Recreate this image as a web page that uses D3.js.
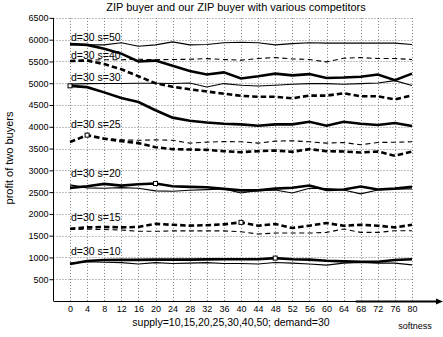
<!DOCTYPE html>
<html>
<head>
<meta charset="utf-8">
<script src="https://cdn.jsdelivr.net/npm/d3@7"></script>
<style>
  html, body { margin: 0; padding: 0; background: #fff; }
  svg { display: block; font-family: "Liberation Sans", Arial, sans-serif; }
</style>
</head>
<body>
<svg id="chart" width="443" height="337"></svg>
<script>
// softness values on the x axis
const softness = [0, 4, 8, 12, 16, 20, 24, 28, 32, 36, 40, 44, 48, 52, 56, 60, 64, 68, 72, 76, 80];
const yTicks = [500, 1000, 1500, 2000, 2500, 3000, 3500, 4000, 4500, 5000, 5500, 6000, 6500];
const supplies = [50, 40, 30, 25, 20, 15, 10];

// profit of two buyers: our ZIP buyer (heavy line) and the plain ZIP buyer (light line)
const ours50 = [5900, 5880, 5790, 5680, 5500, 5520, 5400, 5280, 5200, 5250, 5110, 5160, 5220, 5180, 5210, 5120, 5130, 5150, 5200, 5070, 5220];
const zip50  = [5880, 5880, 5880, 5930, 5850, 5880, 5950, 5880, 5890, 5930, 5940, 5930, 5880, 5910, 5930, 5920, 5920, 5920, 5920, 5920, 5890];
const ours40 = [5510, 5520, 5440, 5320, 5160, 5000, 4920, 4860, 4810, 4760, 4710, 4690, 4690, 4655, 4715, 4715, 4770, 4700, 4700, 4630, 4720];
const zip40  = [5520, 5530, 5540, 5540, 5550, 5540, 5545, 5550, 5565, 5545, 5530, 5567, 5590, 5558, 5545, 5490, 5574, 5590, 5567, 5567, 5545];
const ours30 = [4940, 4910, 4790, 4660, 4570, 4380, 4210, 4140, 4100, 4070, 4055, 4024, 4055, 4055, 4116, 4024, 4116, 4070, 4040, 4085, 4017];
const zip30  = [4980, 4990, 4995, 4995, 5000, 5000, 4995, 5006, 4914, 4992, 4953, 4937, 4953, 4976, 4992, 4992, 4976, 4992, 5006, 5060, 4950];
const ours25 = [3650, 3808, 3725, 3670, 3625, 3532, 3486, 3478, 3470, 3440, 3417, 3440, 3456, 3425, 3486, 3440, 3433, 3410, 3433, 3334, 3430];
const zip25  = [3650, 3790, 3740, 3702, 3690, 3700, 3690, 3625, 3648, 3660, 3656, 3625, 3670, 3679, 3656, 3625, 3640, 3586, 3640, 3645, 3656];
const ours20 = [2597, 2635, 2690, 2650, 2680, 2697, 2635, 2620, 2611, 2574, 2540, 2540, 2580, 2600, 2650, 2550, 2560, 2630, 2560, 2580, 2620];
const zip20  = [2666, 2597, 2590, 2604, 2590, 2528, 2520, 2543, 2558, 2574, 2480, 2540, 2550, 2480, 2590, 2580, 2550, 2460, 2550, 2570, 2570];
const ours15 = [1660, 1690, 1700, 1690, 1700, 1770, 1750, 1730, 1740, 1760, 1805, 1729, 1767, 1676, 1729, 1790, 1729, 1750, 1729, 1690, 1750];
const zip15  = [1640, 1650, 1640, 1630, 1600, 1600, 1610, 1610, 1610, 1610, 1590, 1537, 1560, 1560, 1560, 1575, 1653, 1575, 1575, 1614, 1614];
const ours10 = [850, 920, 940, 945, 945, 950, 950, 950, 955, 960, 960, 958, 985, 958, 950, 923, 910, 900, 900, 940, 958];
const zip10  = [870, 900, 890, 880, 850, 880, 860, 870, 880, 860, 860, 850, 884, 870, 850, 824, 870, 884, 870, 870, 830];

// softness at which each heavy line carries its square marker (null = none)
const markerAt = [null, null, 0, 4, 20, 40, 48];

const oursSeries = [ours50, ours40, ours30, ours25, ours20, ours15, ours10];
const zipSeries  = [zip50, zip40, zip30, zip25, zip20, zip15, zip10];

// ---- layout ----
const svg = d3.select("#chart");
const x = d3.scaleLinear().domain([0, 80]).range([70, 412]);
const y = d3.scaleLinear().domain([0, 6500]).range([301, 17.9]);
const axisX = 53.5;
const dashedRow = [false, true, false, true, false, true, false];
// value at which each curve's caption baseline sits
const captionValue = [5960, 5560, 5060, 3970, 2850, 1840, 1055];

// grid
const grid = svg.append("g").attr("stroke", "#808080").attr("stroke-width", 1).attr("stroke-dasharray", "1,2");
grid.selectAll("line.v").data(softness).join("line")
  .attr("class", "v")
  .attr("x1", d => Math.round(x(d)) + 0.5).attr("x2", d => Math.round(x(d)) + 0.5)
  .attr("y1", y(6500)).attr("y2", y(0));
grid.selectAll("line.h").data(yTicks).join("line")
  .attr("class", "h")
  .attr("x1", axisX).attr("x2", x(80))
  .attr("y1", d => Math.round(y(d)) + 0.5).attr("y2", d => Math.round(y(d)) + 0.5);

// y axis
const yAxis = svg.append("g")
  .attr("transform", `translate(${axisX},0)`)
  .call(d3.axisLeft(y).tickValues(yTicks).tickFormat(d3.format("d"))
    .tickSize(4).tickPadding(1).tickSizeOuter(0));
yAxis.select(".domain").attr("d", `M0,${y(6500)}V${y(0)}`).attr("stroke", "#000");
yAxis.selectAll(".tick text").attr("font-size", 9).attr("font-family", "Liberation Sans, Arial, sans-serif").attr("fill", "#000");
yAxis.selectAll(".tick line").attr("stroke", "#000");

// x axis: labels only, with an arrowed base line
const xAxis = svg.append("g")
  .attr("transform", `translate(0,${y(0)})`)
  .call(d3.axisBottom(x).tickValues(softness).tickFormat(d3.format("d"))
    .tickSize(0).tickPadding(5).tickSizeOuter(0));
xAxis.select(".domain").remove();
xAxis.selectAll(".tick text").attr("font-size", 9).attr("font-family", "Liberation Sans, Arial, sans-serif").attr("fill", "#000");

const baseY = y(0) + 0.5;
svg.append("line").attr("x1", axisX).attr("x2", 438).attr("y1", baseY).attr("y2", baseY)
  .attr("stroke", "#000").attr("stroke-width", 1);
svg.append("line").attr("x1", x(68) - 5).attr("x2", 437).attr("y1", baseY).attr("y2", baseY)
  .attr("stroke", "#000").attr("stroke-width", 2);
svg.append("path").attr("d", `M436,${baseY - 3}L443,${baseY}L436,${baseY + 3}Z`).attr("fill", "#000");

// curves
const line = d3.line().x((d, i) => x(softness[i])).y(d => y(d));
const curves = svg.append("g").attr("fill", "none").attr("stroke", "#000");

zipSeries.forEach((vals, k) => {
  curves.append("path").datum(vals)
    .attr("d", line)
    .attr("stroke-width", 1.1)
    .attr("stroke-dasharray", dashedRow[k] ? "5,3.5" : null);
});
oursSeries.forEach((vals, k) => {
  curves.append("path").datum(vals)
    .attr("d", line)
    .attr("stroke-width", 2.6)
    .attr("stroke-dasharray", dashedRow[k] ? "5.5,3" : null);
});

// markers
oursSeries.forEach((vals, k) => {
  if (markerAt[k] === null) return;
  const i = softness.indexOf(markerAt[k]);
  svg.append("rect")
    .attr("x", x(softness[i]) - 2).attr("y", y(vals[i]) - 2)
    .attr("width", 4).attr("height", 4)
    .attr("fill", "#fff").attr("stroke", "#000").attr("stroke-width", 1);
});

// curve captions
svg.append("g").selectAll("text").data(supplies).join("text")
  .attr("x", x(0) + 1)
  .attr("y", (d, k) => y(captionValue[k]))
  .attr("font-size", 10.5)
  .attr("fill", "#000")
  .text(d => `d=30 s=${d}`);

// titles
svg.append("text").attr("x", 236).attr("y", 11).attr("text-anchor", "middle")
  .attr("font-size", 11).text("ZIP buyer and our ZIP buyer with various competitors");
svg.append("text").attr("x", 231).attr("y", 326).attr("text-anchor", "middle")
  .attr("font-size", 10.5).text("supply=10,15,20,25,30,40,50; demand=30");
svg.append("text").attr("x", 415).attr("y", 329).attr("text-anchor", "middle")
  .attr("font-size", 9).text("softness");
svg.append("text").attr("transform", "translate(13,158) rotate(-90)").attr("text-anchor", "middle")
  .attr("font-size", 11).text("profit of two buyers");
</script>
</body>
</html>
